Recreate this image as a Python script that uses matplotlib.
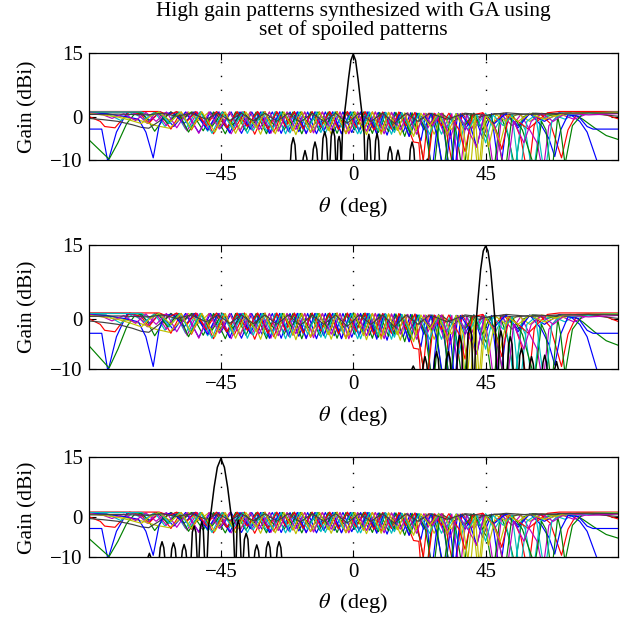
import matplotlib
matplotlib.use('Agg')
import matplotlib.pyplot as plt

plt.rcParams['font.family'] = ['Liberation Serif', 'DejaVu Serif']
plt.rcParams['mathtext.fontset'] = 'stix'

# ---------------- data ----------------
title_text = "High gain patterns synthesized with GA using\nset of spoiled patterns"
x_label = r'$\theta$  (deg)'
y_label = 'Gain (dBi)'
theta_ticks = [-45, 0, 45]
gain_ticks = [-10, 0, 15]
theta_range = [-90, 90]
gain_range = [-10, 15]

# spoiled patterns: (theta deg, gain dBi) vertices
blue1 = [(-90,-2.8),(-85.5,-2.8),(-83.4,-10.5),(-80.5,-3.5),(-77,1.0),(-73,1.2),(-69,-0.8),(-65.5,1.2),(-61,-2.2),(-57,1.2),(-52.5,-3.6),(-48.5,1.2),(-45,-2.6),(-41.5,1.2),(-38,-3.8),(-34.5,1.2),(-31,-3.0),(-27.5,1.2),(-24.5,-3.8),(-21.5,1.2),(-18.5,-3.4),(-15.5,1.2),(-12.5,-3.9),(-9.5,1.2),(-6.5,-3.3),(-3.5,1.2),(-0.5,-3.6),(2.5,1.2),(5.5,-3.2),(8.5,1.1),(11.5,-4.2),(14,1.1),(17,-3.5),(19.5,1.0),(23,-5.5),(24.8,0.8),(26.6,-14),(29,1.0),(31,-4),(33,-14),(35.5,0.8),(38,-3),(41,0.9),(44,-5),(47,0.8),(49.8,-14),(52.5,0.6),(56,-2),(60,0.8),(65,-1.0),(70,1.0),(74,0.5),(77,-1.0),(79.5,-3.5),(83,-10.5),(86,-15),(90,-18)]
green1 = [(-90,-5.2),(-86.5,-7.5),(-83,-9.8),(-80,-6),(-77,-1.5),(-74.5,0.6),(-72,1.0),(-70,-0.5),(-67.5,-3.3),(-64.5,-0.5),(-62,1.2),(-58.5,-0.5),(-55,1.2),(-51,-3.2),(-47.5,1.2),(-43.5,-3.9),(-40,1.2),(-36.5,-3.2),(-33,1.2),(-29.5,-3.9),(-26.5,1.2),(-23.5,-3.0),(-20.5,1.2),(-17.5,-3.9),(-14.5,1.2),(-11.5,-3.2),(-8.5,1.2),(-5.5,-3.8),(-2.5,1.2),(0.5,-3.0),(3.5,1.2),(6.5,-3.8),(9,1.1),(12,-3.4),(14.5,1.1),(17.5,-4.5),(20,1.0),(22.5,-5),(24.9,-14),(27,0.8),(28.5,-3),(30.6,-14),(33,0.8),(35,-3.5),(37.4,-14),(40,0.8),(43,-2),(45.5,-5),(47.6,-14),(50,0.6),(52.5,-4),(55,-12),(57.5,0),(61,0.9),(66,0.2),(70,0.8),(74,1.0),(78,-0.5),(82,-2.5),(86,-4.3),(90,-5.2)]
red1 = [(-90,0.2),(-86,-1.0),(-84.5,-2.2),(-81,-2.5),(-78.5,-0.5),(-76,1.3),(-72,0.5),(-69.5,-1.5),(-66,1.2),(-62,-2.8),(-58.5,1.2),(-55,-3.0),(-51.5,1.2),(-47.5,-3.9),(-44,1.2),(-40.5,-3.2),(-37,1.3),(-33.5,-4.0),(-30,1.3),(-27,-3.5),(-24,1.2),(-20.5,-3.2),(-17.5,1.2),(-14.5,-3.6),(-11.5,1.2),(-8.5,-3.0),(-5.5,1.3),(-2.5,-3.8),(0.5,1.2),(3.5,-3.0),(6.5,1.2),(9.5,-3.5),(12,1.1),(15,-3.0),(17.5,0.8),(19.5,-4),(20.5,-5.8),(22.3,-6.0),(23.2,-14),(25.5,0.9),(28,-1),(30.5,0.9),(34.5,-14),(37,0.9),(40.5,-2.5),(44,1.0),(47.5,-1.5),(51,0.9),(55,-1.5),(57,-5),(59.4,-14),(61.5,-2),(63.5,0.8),(67,-1.5),(70.8,-9.5),(73,-3),(76,0.8),(80,1.1),(86,0.5),(90,-0.4)]
cyan1 = [(-90,1.1),(-84,0.9),(-79,-0.8),(-75,1.0),(-71,-0.5),(-67.5,1.2),(-64,-2.2),(-60.5,1.2),(-57,-2.8),(-53.5,1.2),(-49.5,-3.3),(-46,1.2),(-42.5,-3.0),(-39,1.2),(-36,-3.8),(-32.5,1.2),(-29.5,-3.3),(-26.5,1.2),(-23,-3.9),(-20,1.2),(-17,-3.0),(-14,1.2),(-11,-3.6),(-8,1.2),(-5,-3.0),(-2,1.2),(1.5,-3.9),(4.5,1.2),(7.5,-3.0),(10,1.1),(13,-4.0),(15.5,1.0),(18.5,-3.5),(21,1.0),(24,-2.5),(27,0.9),(30,-4),(33,0.9),(36,-7),(38.5,0.5),(42,-2),(45,0.9),(48,-3),(51,0.7),(53,-5),(54.9,-14),(57,-1),(58.5,-3),(61.1,-14),(63.5,-1),(67,0.8),(72,-0.5),(76,1.0),(90,1.1)]
magenta1 = [(-90,1.2),(-76,1.2),(-73,0.5),(-70,-1.5),(-67,1.2),(-63.5,-2.0),(-60,1.2),(-56.5,-3.2),(-53,1.2),(-49,-3.0),(-45.5,1.2),(-41.5,-3.9),(-38,1.2),(-34.5,-3.0),(-31,1.2),(-28,-3.8),(-25,1.2),(-22,-3.4),(-19,1.2),(-16,-3.9),(-13,1.2),(-10,-3.0),(-7,1.2),(-4,-3.8),(-1,1.2),(2,-3.0),(5,1.2),(8,-3.6),(10.5,1.1),(13.5,-3.0),(16,1.0),(19,-4.5),(21.5,0.9),(25,-3),(28,0.8),(31,-4),(33.5,0.8),(36.2,-14),(38.5,0.6),(41,-3),(44,0.8),(46,-4),(48.1,-14),(50.5,0.5),(54,-2),(57,0.6),(60,-3),(62.5,-6),(64.5,-13),(66.5,-2),(70,0.8),(75,-0.5),(80,0.9),(90,1.0)]
yellow1 = [(-90,1.0),(-84,0.8),(-78,0.0),(-72,-0.9),(-67,-2.0),(-62.5,-2.6),(-59,-0.5),(-56,1.2),(-52.5,-0.8),(-49,1.2),(-45.5,-2.5),(-42,1.2),(-38.5,-3.0),(-35,1.2),(-31.5,-4.0),(-28.5,1.2),(-25.5,-3.2),(-22.5,1.2),(-19.5,-4.1),(-16.5,1.2),(-13.5,-3.2),(-10.5,1.2),(-7.5,-4.0),(-4.5,1.2),(-1.5,-3.3),(1.5,1.2),(4.5,-4.1),(7.5,1.2),(10.5,-3.2),(13,1.1),(16,-4.2),(18.5,1.0),(21.5,-3),(24.5,0.9),(27.5,-4),(30.5,0.8),(33.5,-3),(36,0.8),(38.5,-14),(40.5,0.5),(42.5,-14),(44.5,0.5),(46,-7),(48.5,0.6),(52,-1),(56,0.8),(60,-1),(64,0.9),(70,0.2),(76,1.0),(90,1.1)]
gray1 = [(-90,-0.3),(-85,-0.6),(-80,-1.0),(-75,-1.8),(-72,-2.4),(-69.5,-2.6),(-66,-1.0),(-62,1.2),(-58,-0.5),(-54.5,1.2),(-50.5,-1.5),(-47,1.1),(-43,-2.6),(-39.5,1.1),(-36,-2.0),(-32.5,1.1),(-29,-2.6),(-26,1.1),(-23,-1.8),(-20,1.1),(-17,-2.6),(-14,1.1),(-11,-1.8),(-8,1.1),(-5,-2.5),(-2,1.1),(1,-1.8),(4,1.1),(7,-2.5),(10,1.0),(13,-2.0),(16,1.0),(19,-2.5),(22,0.8),(26,-1.5),(30,0.8),(34,-1),(38,0.7),(43,0),(48,0.8),(55,0.5),(62,0.9),(70,0.6),(78,0.8),(84,0.6),(90,0.2)]
blue2 = [(-90,1.0),(-84,0.8),(-78,0.2),(-73,-0.5),(-70.5,-3.5),(-68,-9.5),(-66,-2),(-64,1.0),(-61,0.8),(-57.5,-1.5),(-54,1.2),(-49.5,-3.0),(-46,1.2),(-42,-3.7),(-38.5,1.2),(-35,-2.8),(-31.5,1.2),(-28.5,-3.8),(-25,1.2),(-22,-3.2),(-19,1.2),(-16,-3.8),(-13,1.2),(-10,-3.3),(-7,1.2),(-4,-3.9),(-1,1.2),(2,-3.3),(5,1.2),(8,-4.0),(10.5,1.1),(13.5,-3.2),(16,1.1),(19,-4.5),(21.5,0.9),(24,-3),(26.5,0.9),(29,-6),(31.1,-14),(33,-3),(34.5,-13),(36.5,0.8),(40,-2.5),(42,-7),(44.5,0.5),(48,-1.5),(52,0.9),(56,-2.5),(60,0.9),(64,-2),(66.5,-5),(68.5,-9.2),(70.5,-3),(73,0.5),(76.5,0.2),(79.5,-2.2),(81.5,-2.8),(90,-2.8)]
green2 = [(-90,1.2),(-78,1.2),(-72,1.1),(-69,0.3),(-66.5,1.2),(-63,-1.5),(-59.5,1.2),(-56,-3.5),(-52,1.2),(-48,-2.2),(-44.5,1.2),(-41,-1.8),(-37.5,1.2),(-34,-1.5),(-30.5,1.2),(-27,-1.8),(-24,1.2),(-21,-1.5),(-18,1.2),(-15,-1.8),(-12,1.2),(-9,-1.5),(-6,1.2),(-3,-1.8),(0,1.2),(3,-2.5),(5.5,1.1),(8.5,-3.6),(11,1.1),(14,-3.0),(16.5,1.0),(19.5,-4.0),(22,0.9),(24.5,-3),(27.2,-14),(29.5,0.8),(31,-3),(32.8,-14),(35,0.8),(38,-2),(41,0.9),(44,-3),(46.5,0.6),(49,-4),(51.5,-14),(54,0.5),(57.5,-3),(61.7,-12),(64,-1),(65.5,-3),(67.4,-14),(69.5,0),(70.5,-3),(72,-11),(74.5,-2),(78,0.8),(84,1.0),(90,1.1)]
red2 = [(-90,1.3),(-66,1.3),(-62.5,0.5),(-60,1.3),(-56.5,-1.0),(-53.5,1.3),(-50,-2.0),(-46.5,1.3),(-43,-2.5),(-39.5,1.3),(-36,-2.2),(-32.5,1.3),(-29,-2.8),(-26,1.3),(-23,-2.2),(-20,1.3),(-17,-2.8),(-14,1.3),(-11,-2.3),(-8,1.3),(-5,-2.9),(-2,1.3),(1,-2.4),(4,1.3),(7,-3.0),(10,1.2),(13,-2.8),(15.5,1.2),(18,-2.0),(21,1.1),(24.9,-14),(27.5,0.9),(30,-2),(32.5,0.9),(36,-3),(38,-8),(40.5,0.5),(44,1.0),(48,-2),(50.5,-7.5),(53,0.5),(56,-1.0),(59.5,-2.8),(62.5,-1),(66,1.0),(70,1.3),(90,1.3)]
cyan2 = [(-90,1.2),(-72,1.2),(-69,0.2),(-66,1.2),(-62.5,-1.5),(-59,1.2),(-55.5,-2.5),(-52,1.2),(-48,-3.8),(-44.5,1.2),(-41,-2.8),(-37.5,1.2),(-34,-3.2),(-31,1.2),(-27.5,-3.0),(-24.5,1.2),(-21.5,-3.7),(-18.5,1.2),(-15.5,-3.0),(-12.5,1.2),(-9.5,-3.8),(-6.5,1.2),(-3.5,-2.8),(-0.5,1.2),(2.5,-3.9),(5.5,1.2),(8.5,-3.2),(11,1.1),(14,-3.6),(16.5,1.0),(19.5,-3),(22.5,0.9),(26,-4),(29,0.8),(32,-2.5),(35,0.8),(39,-3),(42,0.6),(45,-6),(47.5,0.5),(51,-2),(54,0.5),(56.6,-14),(59,-1),(62,0.5),(65.1,-14),(67.5,-1),(71,0.9),(77,0.5),(82,1.0),(90,1.2)]
magenta2 = [(-90,1.0),(-85,0.5),(-82,-0.3),(-78,0.8),(-74,-0.8),(-70.5,1.1),(-67,-1.0),(-63.5,1.2),(-60,-2.5),(-56.5,1.2),(-52.5,-3.8),(-49,1.2),(-45.5,-2.8),(-42,1.2),(-38.5,-3.3),(-35,1.2),(-32,-2.9),(-28.5,1.2),(-25.5,-3.3),(-22.5,1.2),(-19.5,-2.9),(-16.5,1.2),(-13.5,-3.7),(-10.5,1.2),(-7.5,-3.0),(-4.5,1.2),(-1.5,-3.9),(1.5,1.2),(4.5,-3.3),(7.5,1.2),(10.5,-3.9),(13,1.1),(16,-3.0),(18.5,1.0),(21.5,-4),(24,0.9),(27,-2),(30,0.9),(33,-5),(35.5,0.7),(39,-3),(42,-7),(44.5,0.5),(48,-2),(52.1,-14),(54.5,-1),(56,-3),(58,-6),(60.5,-1),(64,0.8),(68,-1),(72,0.9),(80,0.5),(90,0.8)]
yellow2 = [(-90,0.8),(-85,0.5),(-80,0.0),(-76,-0.7),(-72,-1.5),(-69,0.2),(-66,1.2),(-62,-1.0),(-58.5,1.2),(-55,-2.8),(-51.5,1.2),(-47,-3.5),(-43.5,1.2),(-40,-3.8),(-36.5,1.2),(-33,-2.5),(-30,1.2),(-26.5,-3.9),(-23.5,1.2),(-20.5,-3.1),(-17.5,1.2),(-14.5,-3.5),(-11.5,1.2),(-8.5,-3.1),(-5.5,1.2),(-2.5,-3.9),(0.5,1.2),(3.5,-3.3),(6.5,1.2),(9.5,-4.0),(12,1.1),(15,-3.1),(17.5,1.0),(20.5,-4.5),(23,0.9),(26,-2),(29,0.9),(32,-4),(35,0.8),(37.5,-3),(39.6,-14),(41.5,0.3),(43,-14),(45,0.5),(47.5,-2),(50,-6),(52.5,0.5),(56,-1),(60,0.8),(65,-0.5),(72,0.9),(90,1.1)]
gray2 = [(-90,0.6),(-80,0.7),(-70,0.5),(-65,0.9),(-60,0.2),(-55,0.9),(-50,-0.5),(-46,0.9),(-42,-0.8),(-38,0.9),(-34,-0.9),(-30,0.9),(-26,-1.0),(-22,0.9),(-18,-1.2),(-14,0.9),(-10,-1.0),(-6,0.9),(-2,-1.4),(2,0.9),(6,-1.0),(10,0.9),(14,-1.5),(18,0.9),(22,-1.0),(26,0.9),(32,-0.5),(38,0.9),(45,0.4),(52,1.0),(60,0.6),(70,0.9),(80,1.0),(90,0.9)]

# high gain (synthesized) patterns, one per panel
high_gain_0 = [(-90,-30),(-21.8,-30),(-21.6,-13),(-21,-6.5),(-20.4,-4.8),(-19.8,-6.5),(-19.2,-13),(-17.6,-13),(-17,-9.5),(-16.4,-7.8),(-15.8,-9.5),(-15.2,-13),(-14.2,-13),(-13.6,-7.5),(-13,-5.8),(-12.4,-7.5),(-11.8,-13),(-10.9,-13),(-10.3,-5),(-9.7,-3.4),(-9.1,-5),(-8.5,-13),(-8.1,-13),(-7.5,-4.5),(-6.9,-2.8),(-6.3,-4.5),(-5.8,-13),(-5.6,-13),(-5.2,-5.5),(-4.8,-4.5),(-4.4,-6),(-4.1,-13),(-3.7,-4),(-3.2,-0.5),(-2.5,3.5),(-1.6,9),(-0.8,13.2),(0,14.7),(0.8,13.2),(1.6,9),(2.5,3.5),(3.2,-0.5),(3.7,-4),(4.1,-13),(4.5,-13),(4.9,-5.5),(5.3,-4),(5.7,-5.5),(6.2,-13),(7.1,-13),(7.6,-5.5),(8.1,-3.8),(8.6,-5.5),(9.1,-13),(11.4,-13),(11.9,-8.5),(12.5,-6.9),(13.1,-8.5),(13.6,-13),(14.2,-13),(14.7,-9.3),(15.2,-7.7),(15.7,-9.3),(16.2,-13),(18.9,-13),(19.4,-7.5),(20,-5.8),(20.6,-7.5),(21.1,-13),(24.3,-13),(24.7,-10.5),(25.2,-9.8),(25.7,-10.5),(26.1,-13),(26.3,-30),(90,-30)]
high_gain_45 = [(-90,-30),(19,-30),(19.2,-13),(19.8,-10.2),(20.4,-9.4),(21,-10.2),(21.6,-13),(23.2,-13),(23.8,-9),(24.4,-7.5),(25,-9),(25.6,-13),(27.1,-13),(27.7,-8),(28.3,-6.5),(28.9,-8),(29.5,-13),(31.1,-13),(31.7,-8),(32.3,-6.5),(32.9,-8),(33.5,-13),(35,-13),(35.6,-4.8),(36.2,-3.2),(36.8,-4.8),(37.4,-13),(38.4,-13),(39,-3),(39.6,-1.5),(40.2,-3),(40.8,-13),(41.2,-13),(41.7,-1),(42.4,4),(43.3,10),(44.2,13.8),(45,14.8),(45.8,13.8),(46.7,10),(47.6,4),(48.3,-1),(48.8,-13),(49.2,-13),(49.7,-3.8),(50.2,-2.3),(50.7,-3.8),(51.2,-13),(52.3,-13),(52.8,-5),(53.4,-3.5),(54,-5),(54.5,-13),(56,-13),(56.6,-7.3),(57.2,-5.8),(57.8,-7.3),(58.4,-13),(59.4,-13),(60,-9),(60.6,-7.5),(61.2,-9),(61.8,-13),(63.9,-13),(64.5,-8.7),(65.1,-7.2),(65.7,-8.7),(66.3,-13),(67.9,-13),(68.5,-10),(69.1,-8.5),(69.7,-10),(70.3,-13),(70.5,-30),(90,-30)]
high_gain_m45 = [(-90,-30),(-70.5,-30),(-70.3,-13),(-69.8,-10),(-69.3,-9),(-68.8,-10),(-68.3,-13),(-66.3,-13),(-65.6,-7.6),(-65,-6.1),(-64.4,-7.6),(-63.7,-13),(-62.3,-13),(-61.7,-7.9),(-61.1,-6.4),(-60.5,-7.9),(-59.9,-13),(-58.7,-13),(-58.1,-8.3),(-57.5,-6.8),(-56.9,-8.3),(-56.3,-13),(-55.3,-13),(-54.7,-3.7),(-54.1,-2.2),(-53.5,-3.7),(-52.9,-13),(-52.6,-13),(-52,-2.6),(-51.5,-1.1),(-51,-2.6),(-50.4,-13),(-49.8,-13),(-49.2,-2),(-48.3,1.6),(-47.3,7.5),(-46.2,12.5),(-45,14.7),(-43.8,12.5),(-42.7,7.5),(-41.7,1.6),(-40.8,-2),(-40.2,-13),(-39.9,-13),(-39.5,-2.2),(-39.1,-0.7),(-38.6,-2.2),(-38,-13),(-37.6,-13),(-37,-5.5),(-36.4,-4),(-35.8,-5.5),(-35.2,-13),(-34,-13),(-33.4,-8.4),(-32.8,-6.9),(-32.2,-8.4),(-31.6,-13),(-30.1,-13),(-29.5,-7.6),(-28.9,-6.1),(-28.3,-7.6),(-27.7,-13),(-26.4,-13),(-25.8,-7.6),(-25.2,-6.1),(-24.6,-7.6),(-24,-13),(-23.8,-30),(90,-30)]

spoiled_set = [blue1, green1, red1, cyan1, magenta1, yellow1, gray1,
               blue2, green2, red2, cyan2, magenta2, yellow2, gray2]
color_order = ['#0000ff', '#008000', '#ff0000', '#00bfbf', '#bf00bf', '#bfbf00', '#404040']
panel_patterns = [high_gain_0, high_gain_45, high_gain_m45]

# ---------------- layout (pixels) ----------------
W, H = 630, 623
fig = plt.figure(figsize=(W / 100, H / 100), dpi=100)
ax_left, ax_right = 88.5, 618.0
panel_tb = [(52.7, 160.0), (245.0, 369.0), (457.3, 557.3)]
xlabel_y = [207, 416, 603]
FS_TICK = 15
FS_LAB = 15.5

def px(x, y):
    return x / W, 1 - y / H

for k, (top, bot) in enumerate(panel_tb):
    ax = fig.add_axes([ax_left / W, 1 - bot / H, (ax_right - ax_left) / W, (bot - top) / H])
    for i, curve in enumerate(spoiled_set):
        th, g = zip(*curve)
        ax.plot(th, g, color=color_order[i % len(color_order)], lw=0.85)
    th, g = zip(*panel_patterns[k])
    ax.plot(th, g, color='black', lw=1.1)
    for t in theta_ticks:
        ax.axvline(t, color='black', lw=1.0, linestyle=(0, (1, 9)), zorder=0.5)
    ax.set_xlim(theta_range)
    ax.set_ylim(gain_range)
    ax.set_xticks(theta_ticks)
    ax.set_yticks(gain_ticks)
    ax.tick_params(direction='in', length=5, width=0.8, top=True, right=True,
                   labelsize=FS_TICK, pad=4)
    for s in ax.spines.values():
        s.set_linewidth(0.9)
    fig.text(*px(353, xlabel_y[k]), x_label, fontsize=16, ha='center', va='center')
    fig.text(*px(28, (top + bot) / 2), y_label, fontsize=FS_LAB, ha='center', va='center',
             rotation=90)

fig.text(*px(353, 21), title_text, fontsize=FS_LAB, ha='center', va='center',
         linespacing=1.0)

fig.savefig('out.png', dpi=100)
